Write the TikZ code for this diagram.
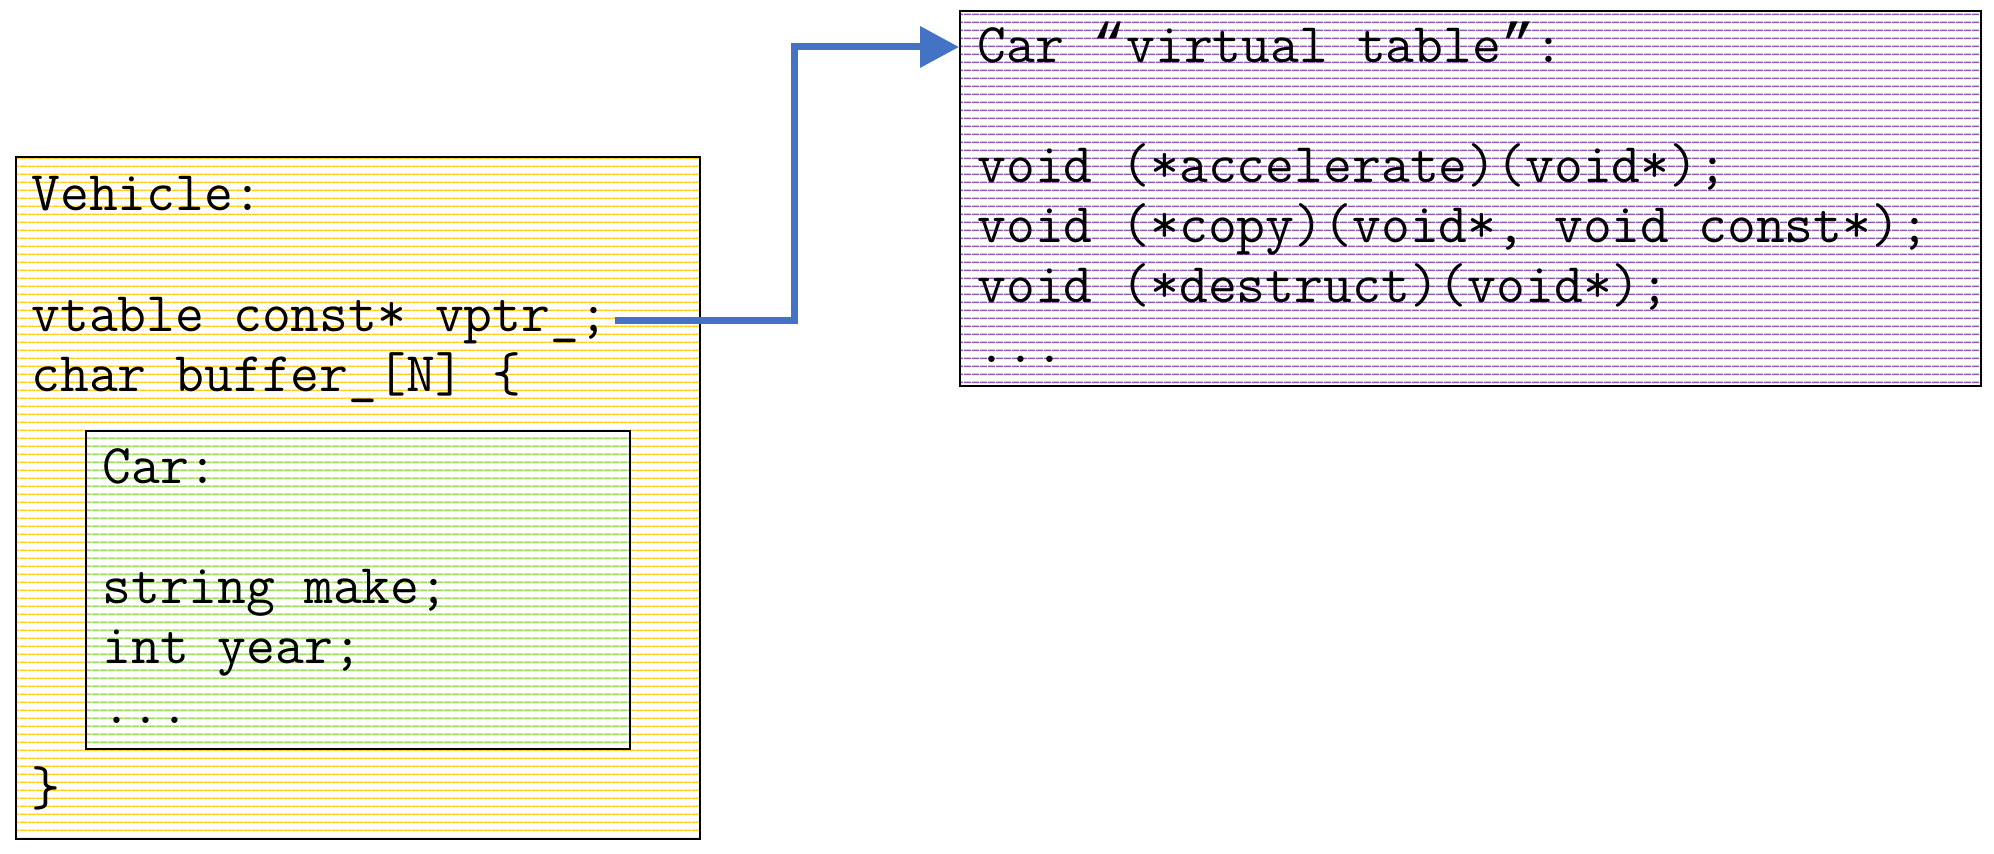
\documentclass[tikz,border=0pt]{standalone}
\usepackage{fontspec}
\newfontfamily\quotefont{Liberation Mono}
\usetikzlibrary{patterns, patterns.meta, arrows.meta}

\definecolor{vehyellow}{HTML}{FFC000}
\definecolor{cargreen}{HTML}{92D050}
\definecolor{vtpurple}{HTML}{7030A0}
\definecolor{ptrblue}{HTML}{4472C4}

\newcommand{\openq}{{\quotefont “}}
\newcommand{\closeq}{{\quotefont ”}}

\tikzset{
    codeline/.style={anchor=base west, inner sep=0pt, font=\ttfamily\fontsize{28}{34}\selectfont},
    membox/.style={draw=black, line width=0.8pt, inner sep=0pt, anchor=north west},
    stripes/.style={pattern={Lines[angle=0, distance=4pt, line width=0.8pt]}, pattern color=#1}
}

\begin{document}
\begin{tikzpicture}[x=0.5pt, y=-0.5pt]
        \useasboundingbox (0,0) rectangle (1994,854);

        % Các hộp bộ nhớ
        \node[membox, stripes=vehyellow!85, minimum width=342pt, minimum height=341pt] (vehicle) at (15,156) {};
        \node[membox, stripes=cargreen!85, minimum width=272pt, minimum height=159pt] (car) at (85,430) {};
        \node[membox, stripes=vtpurple!80, minimum width=510.5pt, minimum height=187.5pt] (vtab) at (959,10) {};

        % Vehicle
        \node[codeline] (vname) at (31,211) {Vehicle:};
        \node[codeline] (vptr) at (31,332) {vtable const* vptr\_;};
        \node[codeline] (vbuf) at (31,392) {char buffer\_[N] \{};
        \node[codeline] (vend) at (31,806) {\}};

        % Car
        \node[codeline] (cname) at (102,484) {Car:};
        \node[codeline] (cmake) at (102,604) {string make;};
        \node[codeline] (cyear) at (102,664) {int year;};
        \node[codeline] (cmore) at (102,724) {...};

        % Bảng ảo
        \node[codeline] (vtitle) at (977,63) {Car \openq virtual table\closeq:};
        \node[codeline] (vacc) at (977,183) {void (*accelerate)(void*);};
        \node[codeline] (vcopy) at (977,243) {void (*copy)(void*, void const*);};
        \node[codeline] (vdes) at (977,303) {void (*destruct)(void*);};
        \node[codeline] (vmore) at (977,363) {...};

        % Con trỏ vptr_
        \coordinate (bend) at (794,47);
        \draw[ptrblue, line width=3.5pt, -{Triangle[length=19.5pt, width=20pt]}]
            ([xshift=3pt, yshift=5.5pt]vptr.base east) -| (bend) -- (bend -| vtab.west);
    \end{tikzpicture}
\end{document}
